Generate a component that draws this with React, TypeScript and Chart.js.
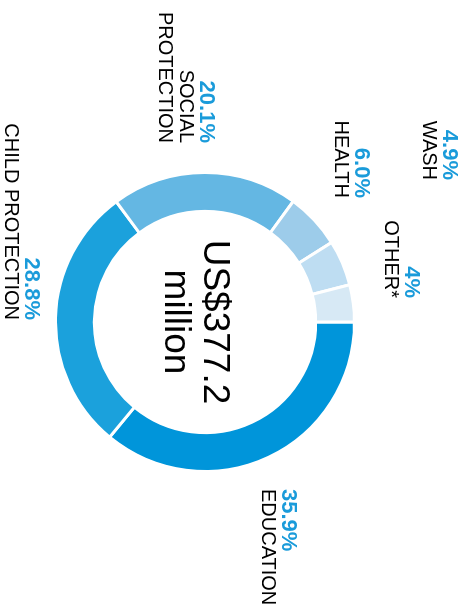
import React, { useEffect, useRef } from "react";
import { Chart, registerables } from "chart.js";

Chart.register(...registerables);

// ---- data ----
const categories = ["EDUCATION", "CHILD PROTECTION", "SOCIAL PROTECTION", "HEALTH", "WASH", "OTHER*"];
const shares = [35.9, 28.8, 20.1, 6.0, 4.9, 4];
const shareLabels = ["35.9%", "28.8%", "20.1%", "6.0%", "4.9%", "4%"];
const labelLines = [["EDUCATION"], ["CHILD PROTECTION"], ["SOCIAL", "PROTECTION"], ["HEALTH"], ["WASH"], ["OTHER*"]];
const centerLines = ["US$377.2", "million"];

// ---- style ----
const sliceColors = ["#0095DA", "#1BA1DC", "#64B7E3", "#9DCCEA", "#BEDDF2", "#D7E9F5"];
const PCT_COLOR = "#1A9BDA";
const FONT = '"Liberation Sans", Arial, Helvetica, sans-serif';

// label anchors relative to the doughnut centre (unrotated frame)
const labelLayout = [
  { align: "left", dx: 167, dy: -77 },
  { align: "right", dx: -2, dy: 180 },
  { align: "right", dx: -179, dy: 5 },
  { align: "right", dx: -124, dy: -150 },
  { align: "right", dx: -142, dy: -238 },
  { align: "right", dx: -24, dy: -200 },
];

const labelsPlugin = {
  id: "sliceLabels",
  afterDatasetsDraw(chart: any) {
    const meta = chart.getDatasetMeta(0);
    const arc = meta.data[0];
    if (!arc) return;
    const cx = arc.x;
    const cy = arc.y;
    const ctx = chart.ctx as CanvasRenderingContext2D;
    ctx.save();
    ctx.textBaseline = "alphabetic";
    ctx.fillStyle = "#000";
    ctx.font = `37px ${FONT}`;
    ctx.textAlign = "center";
    centerLines.forEach((t, i) => ctx.fillText(t, cx, cy + 1 + i * 39));

    labelLayout.forEach((L, i) => {
      ctx.textAlign = L.align as CanvasTextAlign;
      const x = cx + L.dx;
      const y = cy + L.dy;
      ctx.font = `bold 22px ${FONT}`;
      ctx.fillStyle = PCT_COLOR;
      ctx.fillText(shareLabels[i], x, y);
      ctx.font = `20px ${FONT}`;
      ctx.fillStyle = "#000";
      labelLines[i].forEach((t, j) => ctx.fillText(t, x, y + 20 + j * 21));
    });
    ctx.restore();
  },
};

export default function App() {
  const ref = useRef<HTMLCanvasElement>(null);
  useEffect(() => {
    const chart = new Chart(ref.current!, {
      type: "doughnut",
      data: {
        labels: categories,
        datasets: [
          {
            data: shares,
            backgroundColor: sliceColors,
            borderColor: "#ffffff",
            borderWidth: 3,
            hoverOffset: 0,
          },
        ],
      },
      options: {
        responsive: false,
        animation: false,
        cutout: "74%",
        events: [],
        layout: { padding: { left: 171, right: 132, top: 110, bottom: 54 } },
        plugins: { legend: { display: false }, tooltip: { enabled: false } },
      },
      plugins: [labelsPlugin],
    } as any);
    return () => chart.destroy();
  }, []);

  return (
    <div
      style={{
        position: "fixed",
        left: 0,
        top: 0,
        width: 466,
        height: 605,
        overflow: "hidden",
        background: "#fff",
      }}
    >
      <canvas
        ref={ref}
        width={605}
        height={466}
        style={{
          position: "absolute",
          left: 0,
          top: 0,
          width: 605,
          height: 466,
          transformOrigin: "0 0",
          transform: "translate(466px, 0) rotate(90deg)",
        }}
      />
    </div>
  );
}
